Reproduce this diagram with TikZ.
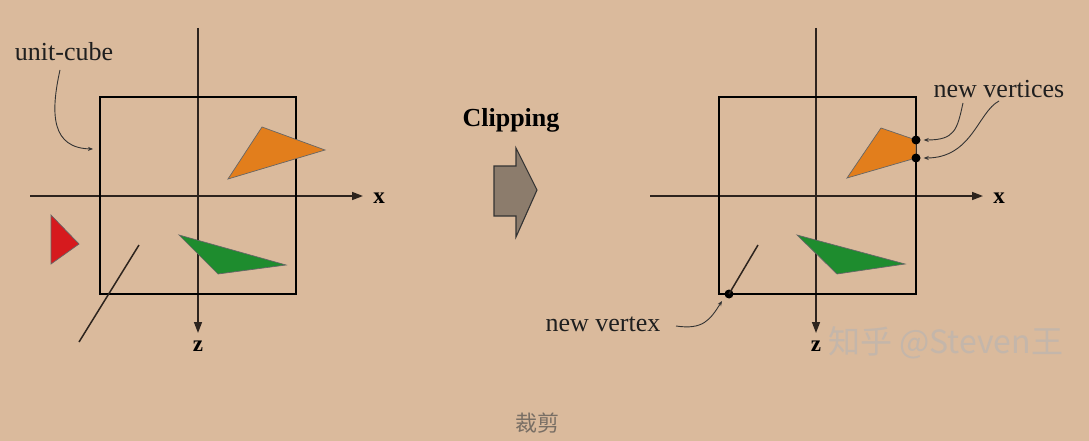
\documentclass[tikz,border=0pt]{standalone}
\usepackage{fontspec}
\setmainfont{Liberation Serif}
\newfontfamily\cjk{Noto Sans CJK SC}
\usetikzlibrary{arrows.meta}
\definecolor{bg}{RGB}{218,186,156}
\definecolor{orangetri}{RGB}{226,126,28}
\definecolor{greentri}{RGB}{30,140,46}
\definecolor{redtri}{RGB}{214,26,30}
\definecolor{arrowfill}{RGB}{140,124,108}
\definecolor{axiscol}{RGB}{45,36,30}
\definecolor{captioncol}{RGB}{120,110,100}
\definecolor{wmcol}{RGB}{196,182,170}
\tikzset{
  cube/.style={draw=black, line width=2.8pt},
  axis/.style={draw=axiscol, line width=1.5pt, -{Triangle[length=11pt,width=8pt]}},
  tri/.style={draw=black!60, line width=0.7pt, line join=miter},
  segline/.style={draw=axiscol, line width=1.5pt},
  leader/.style={draw=black!80, line width=0.9pt, -{Stealth[length=5pt,width=4pt]}},
  lbl/.style={font=\fontsize{26}{28}\selectfont, text=black!88, inner sep=0pt},
  axlbl/.style={font=\bfseries\fontsize{23}{25}\selectfont, inner sep=0pt},
  vdot/.style={fill=black, circle, inner sep=0pt, minimum size=9pt},
}
\begin{document}
\begin{tikzpicture}[x=1pt,y=-1pt]
\fill[bg] (0,0) rectangle (1089,441);
\useasboundingbox (0,0) rectangle (1089,441);

% ---------- left panel ----------
\draw[axis] (30,196) -- (363,196) coordinate (lxend);
\draw[axis] (198,28) -- (198,333) coordinate (lzend);
\node[axlbl] (lx) at (379,198) {x};
\node[axlbl] (lz) at (198,346) {z};

\coordinate (lo1) at (228,179); \coordinate (lo2) at (262,127); \coordinate (lo3) at (325,150);
\coordinate (lr1) at (51,215); \coordinate (lr2) at (51,264); \coordinate (lr3) at (79,244);
\coordinate (lg1) at (179,235); \coordinate (lg2) at (286,265); \coordinate (lg3) at (218,274);
\draw[cube] (100,97) rectangle (296,294);
\draw[tri, fill=orangetri] (lo1) -- (lo2) -- (lo3) -- cycle;
\draw[tri, fill=redtri] (lr1) -- (lr2) -- (lr3) -- cycle;
\draw[tri, fill=greentri] (lg1) -- (lg2) -- (lg3) -- cycle;
\coordinate (ll1) at (139,245); \coordinate (ll2) at (79,342);
\draw[segline] (ll1) -- (ll2);

\node[lbl] (unitcube) at (64,52) {unit-cube};
\coordinate (ucend) at (93,149);
\draw[leader] (60,70) .. controls (50,115) and (52,148) .. (ucend);

% ---------- middle ----------
\node[font=\bfseries\fontsize{26}{28}\selectfont, inner sep=0pt] (clip) at (511,120) {Clipping};
\draw[draw=black!80, line width=1.1pt, fill=arrowfill, line join=miter]
  (494,166) -- (516,166) -- (516,148) -- (537,190) -- (516,237) -- (516,216) -- (494,216) -- cycle;

% ---------- right panel ----------
\draw[axis] (650,196) -- (983,196) coordinate (rxend);
\draw[axis] (816,28) -- (816,333) coordinate (rzend);
\node[axlbl] (rx) at (999,198) {x};

\coordinate (ro1) at (847,178); \coordinate (ro2) at (881,128);
\coordinate (nv1) at (916,140); \coordinate (nv2) at (916,158);
\coordinate (rg1) at (797,235); \coordinate (rg2) at (905,264); \coordinate (rg3) at (837,274);
\draw[cube] (719,97) rectangle (916,294);
\draw[tri, fill=orangetri] (ro1) -- (ro2) -- (nv1) -- (nv2) -- cycle;
\draw[tri, fill=greentri] (rg1) -- (rg2) -- (rg3) -- cycle;
\coordinate (rl1) at (758,245);
\node[vdot] (nvb) at (729,294) {};
\draw[segline] (rl1) -- (nvb.center);
\node[vdot] (d1) at (nv1) {};
\node[vdot] (d2) at (nv2) {};

\node[lbl] (newvs) at (999,89) {new vertices};
\draw[leader] (963,103) .. controls (957,130) and (955,140) .. ([xshift=3pt]d1.east);
\draw[leader] (999,101) .. controls (978,112) and (972,158) .. ([xshift=3pt]d2.east);

\node[lbl] (newv) at (603,324) {new vertex};
\draw[leader] (676,326) .. controls (703,330) and (710,320) .. (722,301);

% watermark
\node[font=\cjk\fontsize{32}{34}\selectfont, text=wmcol, inner sep=0pt, anchor=west] (wm) at (828,343) {知乎 @Steven王};
\node[axlbl] (rz) at (816,346) {z};

% caption
\node[font=\cjk\fontsize{22}{24}\selectfont, text=captioncol, inner sep=0pt] (cap) at (537,423) {裁剪};
\end{tikzpicture}
\end{document}
